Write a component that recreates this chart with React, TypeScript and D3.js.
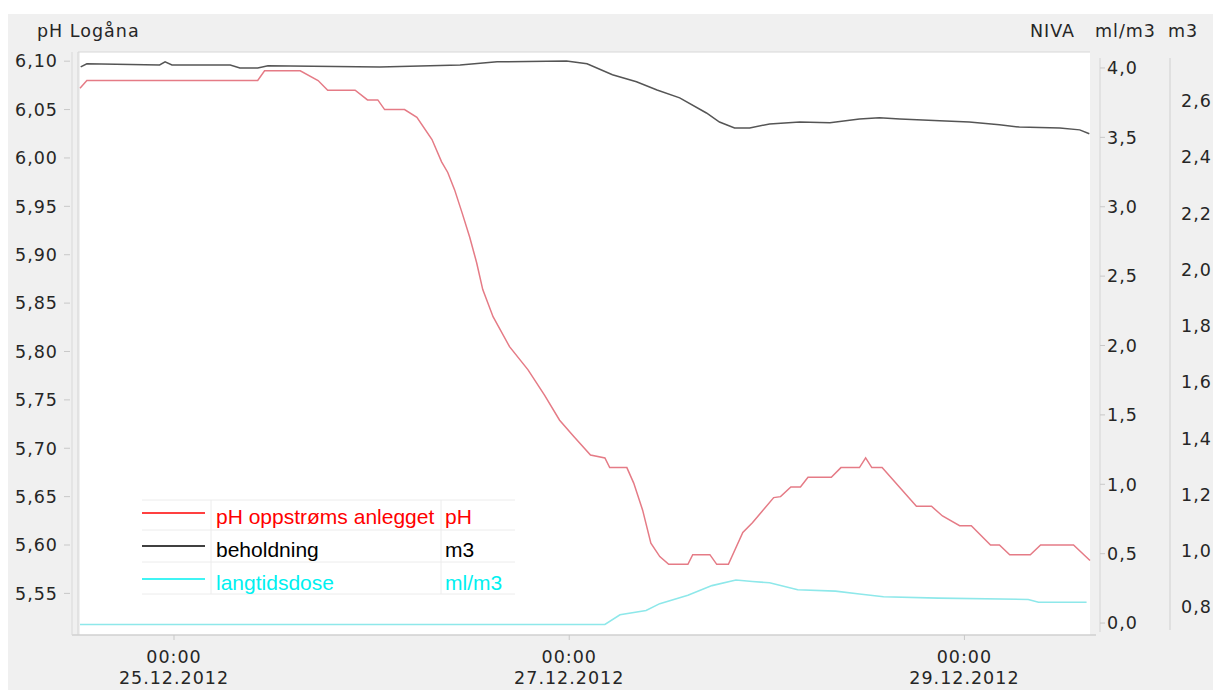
import React from "react";
import * as d3 from "d3";

// ---------- data ----------
const phSeries: [string, number][] = [
  ["2012-12-24 12:35", 6.072], ["2012-12-24 13:25", 6.08], ["2012-12-25 10:10", 6.08],
  ["2012-12-25 11:00", 6.09], ["2012-12-25 15:20", 6.09], ["2012-12-25 17:30", 6.08],
  ["2012-12-25 18:40", 6.07], ["2012-12-25 22:00", 6.07], ["2012-12-25 23:30", 6.06],
  ["2012-12-26 00:45", 6.06], ["2012-12-26 01:35", 6.05], ["2012-12-26 04:00", 6.05],
  ["2012-12-26 05:30", 6.042], ["2012-12-26 07:20", 6.019], ["2012-12-26 08:30", 5.996],
  ["2012-12-26 09:15", 5.985], ["2012-12-26 10:05", 5.967], ["2012-12-26 11:00", 5.943],
  ["2012-12-26 11:55", 5.918], ["2012-12-26 12:45", 5.892], ["2012-12-26 13:30", 5.864],
  ["2012-12-26 14:45", 5.836], ["2012-12-26 16:45", 5.805], ["2012-12-26 19:00", 5.781],
  ["2012-12-26 21:00", 5.755], ["2012-12-26 22:50", 5.729], ["2012-12-27 00:35", 5.712],
  ["2012-12-27 02:35", 5.693], ["2012-12-27 04:20", 5.69], ["2012-12-27 04:55", 5.68],
  ["2012-12-27 07:00", 5.68], ["2012-12-27 07:50", 5.664], ["2012-12-27 08:55", 5.636],
  ["2012-12-27 09:55", 5.602], ["2012-12-27 11:00", 5.588], ["2012-12-27 12:05", 5.58],
  ["2012-12-27 14:25", 5.58], ["2012-12-27 15:00", 5.59], ["2012-12-27 17:05", 5.59],
  ["2012-12-27 17:55", 5.58], ["2012-12-27 19:20", 5.58], ["2012-12-27 21:05", 5.613],
  ["2012-12-27 22:15", 5.623], ["2012-12-28 00:50", 5.649], ["2012-12-28 01:40", 5.65],
  ["2012-12-28 02:55", 5.66], ["2012-12-28 04:05", 5.66], ["2012-12-28 05:00", 5.67],
  ["2012-12-28 07:50", 5.67], ["2012-12-28 09:00", 5.68], ["2012-12-28 11:15", 5.68],
  ["2012-12-28 12:00", 5.69], ["2012-12-28 12:45", 5.68], ["2012-12-28 14:00", 5.68],
  ["2012-12-28 18:10", 5.64], ["2012-12-28 20:00", 5.64], ["2012-12-28 21:20", 5.63],
  ["2012-12-28 23:25", 5.62], ["2012-12-29 00:50", 5.62], ["2012-12-29 03:10", 5.6],
  ["2012-12-29 04:15", 5.6], ["2012-12-29 05:30", 5.59], ["2012-12-29 08:00", 5.59],
  ["2012-12-29 09:15", 5.6], ["2012-12-29 13:15", 5.6], ["2012-12-29 15:15", 5.584],
];

const beholdningSeries: [string, number][] = [
  ["2012-12-24 12:40", 2.721], ["2012-12-24 13:25", 2.732], ["2012-12-24 22:15", 2.728],
  ["2012-12-24 22:55", 2.739], ["2012-12-24 23:45", 2.728], ["2012-12-25 06:50", 2.728],
  ["2012-12-25 08:00", 2.717], ["2012-12-25 10:10", 2.717], ["2012-12-25 11:25", 2.725],
  ["2012-12-26 01:00", 2.721], ["2012-12-26 10:45", 2.728], ["2012-12-26 15:15", 2.739],
  ["2012-12-26 23:40", 2.742], ["2012-12-27 02:10", 2.732], ["2012-12-27 05:15", 2.693],
  ["2012-12-27 08:10", 2.668], ["2012-12-27 10:40", 2.639], ["2012-12-27 13:25", 2.611],
  ["2012-12-27 16:40", 2.557], ["2012-12-27 18:15", 2.525], ["2012-12-27 20:05", 2.504],
  ["2012-12-27 21:55", 2.504], ["2012-12-28 00:20", 2.518], ["2012-12-28 04:00", 2.525],
  ["2012-12-28 07:40", 2.522], ["2012-12-28 11:15", 2.536], ["2012-12-28 13:40", 2.54],
  ["2012-12-28 16:10", 2.536], ["2012-12-28 21:00", 2.529], ["2012-12-29 00:35", 2.525],
  ["2012-12-29 04:15", 2.515], ["2012-12-29 06:40", 2.507], ["2012-12-29 11:35", 2.504],
  ["2012-12-29 14:00", 2.497], ["2012-12-29 15:10", 2.483],
];

const langtidsdoseSeries: [string, number][] = [
  ["2012-12-24 12:35", -0.01], ["2012-12-27 04:20", -0.01], ["2012-12-27 06:10", 0.06],
  ["2012-12-27 09:20", 0.09], ["2012-12-27 11:00", 0.14], ["2012-12-27 14:25", 0.2],
  ["2012-12-27 17:20", 0.27], ["2012-12-27 20:15", 0.31], ["2012-12-27 22:15", 0.3],
  ["2012-12-28 00:20", 0.29], ["2012-12-28 03:45", 0.24], ["2012-12-28 08:20", 0.23],
  ["2012-12-28 11:15", 0.21], ["2012-12-28 14:10", 0.19], ["2012-12-28 20:50", 0.18],
  ["2012-12-29 07:45", 0.17], ["2012-12-29 09:00", 0.15], ["2012-12-29 14:50", 0.15],
];

const timeDomain: [string, string] = ["2012-12-24 12:35", "2012-12-29 15:15"];
const xTicks = ["2012-12-25 00:00", "2012-12-27 00:00", "2012-12-29 00:00"];
const phTicks = [6.1, 6.05, 6.0, 5.95, 5.9, 5.85, 5.8, 5.75, 5.7, 5.65, 5.6, 5.55];
const doseTicks = [4.0, 3.5, 3.0, 2.5, 2.0, 1.5, 1.0, 0.5, 0.0];
const m3Ticks = [2.6, 2.4, 2.2, 2.0, 1.8, 1.6, 1.4, 1.2, 1.0, 0.8];
const phDomain: [number, number] = [5.507, 6.1095];
const doseDomain: [number, number] = [-0.086, 4.115];
const m3Domain: [number, number] = [0.7, 2.774];

const legendRows = [
  { name: "pH oppstrøms anlegget", unit: "pH", color: "#ff0000" },
  { name: "beholdning", unit: "m3", color: "#000000" },
  { name: "langtidsdose", unit: "ml/m3", color: "#00f0f0" },
];

// ---------- layout ----------
const W = 1215, H = 690;
const PL = 80, PR = 1090, PT = 52, PB = 635;
const AX_FONT = "'DejaVu Sans', Verdana, sans-serif";
const LG_FONT = "'Liberation Sans', Arial, sans-serif";

const parse = d3.timeParse("%Y-%m-%d %H:%M");
const fmtComma = (d: number, n: number) => d.toFixed(n).replace(".", ",");

export default function App() {
  const x = d3.scaleTime().domain(timeDomain.map((t) => parse(t) as Date)).range([PL, PR]);
  const yPh = d3.scaleLinear().domain(phDomain).range([PB, PT]);
  const yDose = d3.scaleLinear().domain(doseDomain).range([PB, PT]);
  const yM3 = d3.scaleLinear().domain(m3Domain).range([PB, PT]);

  const mk = (ys: d3.ScaleLinear<number, number>) =>
    d3.line<[string, number]>().x((d) => x(parse(d[0]) as Date)).y((d) => ys(d[1]));

  const txt = { fontFamily: AX_FONT, fontSize: 17.5, fill: "#262626", letterSpacing: 1 } as const;

  return (
    <div style={{ position: "absolute", left: 0, top: 0 }}>
      <svg width={W} height={H} style={{ display: "block", background: "#fff" }}>
        <rect x={8} y={14} width={1205} height={676} fill="#f0f0f0" />
        <rect x={PL} y={PT} width={PR - PL} height={PB - PT} fill="#ffffff" />
        <line x1={PL - 2} x2={PL - 2} y1={PT} y2={PB} stroke="#d4d4d4" />
        <line x1={PL - 2} x2={PR} y1={PT} y2={PT} stroke="#d8d8d8" />
        <line x1={PL - 8} x2={PR + 6} y1={PB} y2={PB} stroke="#d0d0d0" strokeWidth={1.5} />

        {/* headers */}
        <text x={37} y={37} {...txt}>pH Logåna</text>
        <text x={1030} y={37} {...txt}>NIVA</text>
        <text x={1095} y={37} {...txt}>ml/m3</text>
        <text x={1168} y={37} {...txt}>m3</text>

        {/* left axis */}
        <line x1={72} x2={72} y1={PT} y2={PB} stroke="#d8d8d8" />
        {phTicks.map((v) => (
          <g key={"p" + v}>
            <line x1={64} x2={70} y1={yPh(v)} y2={yPh(v)} stroke="#c8c8c8" />
            <text x={58} y={yPh(v)} dy="0.36em" textAnchor="end" {...txt}>{fmtComma(v, 2)}</text>
          </g>
        ))}

        {/* right axis 1: ml/m3 */}
        <line x1={1100} x2={1100} y1={PT + 6} y2={PB - 3} stroke="#d4d4d4" />
        {doseTicks.map((v) => (
          <g key={"d" + v}>
            <line x1={1100} x2={1105} y1={yDose(v)} y2={yDose(v)} stroke="#c8c8c8" />
            <text x={1107} y={yDose(v)} dy="0.36em" {...txt}>{fmtComma(v, 1)}</text>
          </g>
        ))}

        {/* right axis 2: m3 */}
        <line x1={1170} x2={1170} y1={PT + 6} y2={PB - 5} stroke="#d0d0d0" />
        {m3Ticks.map((v) => (
          <g key={"m" + v}>
            <text x={1181} y={yM3(v)} dy="0.36em" {...txt}>{fmtComma(v, 1)}</text>
          </g>
        ))}

        {/* x axis */}
        {xTicks.map((t) => {
          const d = parse(t) as Date;
          const xx = x(d);
          return (
            <g key={t}>
              <line x1={xx} x2={xx} y1={PB} y2={PB + 5} stroke="#c8c8c8" />
              <text x={xx} y={663} textAnchor="middle" {...txt}>{d3.timeFormat("%H:%M")(d)}</text>
              <text x={xx} y={684} textAnchor="middle" {...txt}>{d3.timeFormat("%d.%m.%Y")(d)}</text>
            </g>
          );
        })}

        {/* series */}
        <path d={mk(yDose)(langtidsdoseSeries) || ""} fill="none" stroke="#8ee8ea" strokeWidth={1.6} />
        <path d={mk(yM3)(beholdningSeries) || ""} fill="none" stroke="#555555" strokeWidth={1.5} />
        <path d={mk(yPh)(phSeries) || ""} fill="none" stroke="#e57b86" strokeWidth={1.5} />

        {/* legend */}
        <g>
          {[500, 530, 562, 594].map((yy) => (
            <line key={yy} x1={142} x2={515} y1={yy} y2={yy} stroke="#ececec" />
          ))}
          <line x1={211} x2={211} y1={500} y2={594} stroke="#ececec" />
          <line x1={441} x2={441} y1={500} y2={594} stroke="#ececec" />
          {legendRows.map((r, i) => {
            const cy = 513 + i * 33;
            return (
              <g key={r.name}>
                <line x1={142} x2={205} y1={cy} y2={cy} stroke={r.color} strokeWidth={1.3} />
                <text x={216} y={cy + 11} fontFamily={LG_FONT} fontSize={21} fill={r.color}>{r.name}</text>
                <text x={445} y={cy + 11} fontFamily={LG_FONT} fontSize={21} fill={r.color}>{r.unit}</text>
              </g>
            );
          })}
        </g>
      </svg>
    </div>
  );
}
